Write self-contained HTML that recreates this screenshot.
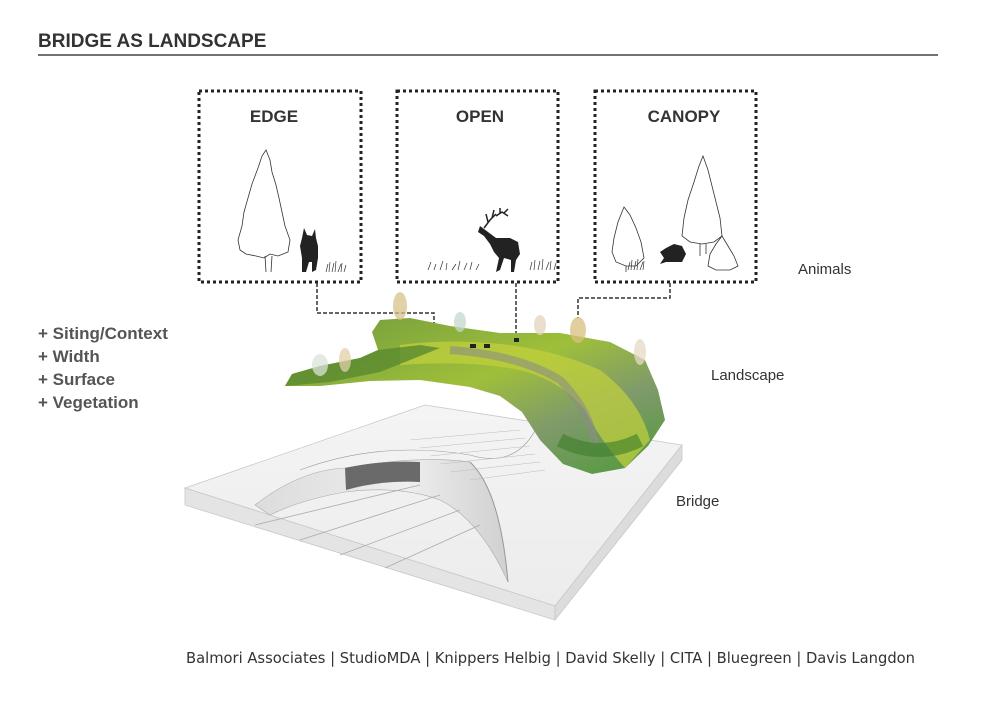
<!DOCTYPE html>
<html><head><meta charset="utf-8"><style>
html,body{margin:0;padding:0;background:#fff;}
svg{display:block;}
text{font-family:"Liberation Sans",Arial,sans-serif;}
</style></head><body>
<svg width="984" height="712" viewBox="0 0 984 712" xmlns="http://www.w3.org/2000/svg">
<defs>
<linearGradient id="g1" x1="0" y1="0" x2="1" y2="1">
<stop offset="0" stop-color="#6e9a3e"/><stop offset="0.45" stop-color="#9fbf3a"/><stop offset="0.7" stop-color="#7f9a6a"/><stop offset="1" stop-color="#4f9a3a"/>
</linearGradient>
<linearGradient id="slab" x1="0" y1="0" x2="0" y2="1">
<stop offset="0" stop-color="#f4f4f4"/><stop offset="1" stop-color="#ececec"/>
</linearGradient>
<linearGradient id="tun" x1="0" y1="0" x2="1" y2="0"><stop offset="0" stop-color="#dcdcdc"/><stop offset="0.6" stop-color="#eeeeee"/><stop offset="1" stop-color="#d0d0d0"/></linearGradient>
</defs>
<text x="38" y="47" font-size="19" font-weight="bold" fill="#333">BRIDGE AS LANDSCAPE</text>
<line x1="38" y1="55" x2="938" y2="55" stroke="#444" stroke-width="1.5"/>

<g fill="none" stroke="#222" stroke-width="3" stroke-dasharray="3 3">
<rect x="199" y="91" width="162" height="191"/>
<rect x="397" y="91" width="161" height="191"/>
<rect x="595" y="91" width="161" height="191"/>
</g>
<g font-size="17" font-weight="bold" fill="#333" text-anchor="middle">
<text x="274" y="122">EDGE</text>
<text x="480" y="122">OPEN</text>
<text x="684" y="122">CANOPY</text>
</g>

<g fill="none" stroke="#333" stroke-width="0.8">
<path d="M266 150 L270 160 272 172 276 185 279 198 282 212 285 226 290 240 288 252 278 256 270 254 264 258 256 256 246 254 240 250 238 240 242 226 244 212 248 198 252 184 258 168 262 156 Z"/>
<path d="M265 256 L266 272 M272 256 L271 272"/>
<path d="M624 207 L630 215 636 228 641 242 644 258 636 266 626 266 616 262 612 252 614 238 618 222 Z"/>
<path d="M626 266 V272"/>
<path d="M703 156 L708 170 712 186 716 202 720 218 722 236 714 242 702 244 690 242 682 236 684 218 688 200 694 182 699 166 Z"/>
<path d="M700 244 V256 M706 244 V254"/>
<path d="M722 236 L728 246 734 256 738 266 730 270 716 270 708 266 710 254 716 244 Z"/>
</g>
<path fill="#222" d="M304 228 L307 235 312 236 315 229 316 238 318 246 318 258 316 270 312 272 312 262 309 262 306 272 302 272 302 258 300 246 302 238 Z"/>
<path fill="#222" d="M480 226 L488 232 496 238 510 238 518 242 520 254 516 260 514 272 511 272 511 260 504 258 500 270 496 272 499 258 494 252 490 244 484 236 478 232 Z"/>
<path fill="none" stroke="#222" stroke-width="1.5" d="M484 228 L490 220 496 214 M488 222 L486 214 M492 218 L494 210 M496 216 L502 212 L508 216 M500 214 L500 208 M504 213 L508 209"/>
<path fill="#222" d="M660 252 L666 248 674 244 682 246 686 254 682 262 674 262 666 262 660 264 664 258 Z"/>
<g fill="none" stroke="#333" stroke-width="0.7">
<path d="M326 272 l2 -8 M329 272 l1 -10 M332 272 l2 -9 M335 272 l1 -11 M338 272 l3 -8 M341 272 l1 -9 M344 272 l2 -7"/>
<path d="M428 270 l3 -8 M434 270 l2 -6 M440 270 l3 -9 M446 270 l1 -7 M452 270 l4 -6 M458 270 l2 -9 M464 270 l3 -7 M470 270 l2 -8 M476 270 l3 -6"/>
<path d="M530 270 l2 -8 M534 270 l1 -10 M538 270 l2 -9 M542 270 l1 -11 M546 270 l3 -8 M550 270 l1 -9 M554 270 l2 -7"/>
<path d="M628 270 l2 -8 M631 270 l1 -10 M634 270 l2 -9 M637 270 l1 -11 M640 270 l3 -8 M643 270 l1 -9"/>
</g>

<g fill="none" stroke="#333" stroke-width="1.5" stroke-dasharray="4 2">
<path d="M317 283 V313 H434 V332"/>
<path d="M516 283 V336"/>
<path d="M670 283 V298 H578 V318"/>
</g>

<polygon points="185,488 425,405 682,445 555,606" fill="url(#slab)" stroke="#c8c8c8" stroke-width="0.8"/>
<polygon points="185,488 555,606 555,620 185,505" fill="#e4e4e4" stroke="#c8c8c8" stroke-width="0.8"/>
<polygon points="555,606 682,445 682,460 555,620" fill="#dcdcdc" stroke="#c8c8c8" stroke-width="0.8"/>
<!-- arch -->
<path d="M255 505 Q300 470 345 468 Q420 455 470 462 Q500 490 508 582 Q480 520 440 500 Q400 485 345 492 Q300 500 270 515 Z" fill="url(#tun)" stroke="#aaa" stroke-width="0.6"/>
<path d="M345 468 Q380 460 420 462 L420 482 Q380 480 346 490 Z" fill="#6a6a6a"/>
<path d="M470 462 Q500 490 508 582" fill="none" stroke="#999" stroke-width="1"/>
<path d="M300 470 Q380 440 470 455 Q520 470 540 420" fill="none" stroke="#999" stroke-width="0.6"/>
<g stroke="#aaa" stroke-width="0.8">
<line x1="255" y1="525" x2="420" y2="485"/><line x1="300" y1="540" x2="440" y2="495"/><line x1="340" y1="555" x2="460" y2="510"/><line x1="385" y1="568" x2="480" y2="525"/>
</g>
<g stroke="#bbb" stroke-width="0.5">
<path d="M410 440 L520 430 M420 448 L525 438 M430 456 L530 446 M440 464 L535 454 M450 472 L540 462 M470 480 L545 470" />
</g>

<path d="M285 386 L292 374 320 366 360 358 378 350 372 332 380 320 410 318 450 326 500 333 560 333 610 342 645 360 658 390 665 420 648 446 625 468 592 474 563 464 540 440 522 412 500 396 470 387 420 380 370 381 320 386 Z" fill="url(#g1)"/>
<path d="M400 345 Q450 338 510 345 Q560 352 600 370 Q640 400 650 440 L625 468 Q600 440 585 410 Q560 380 520 370 Q470 360 400 365 Z" fill="#c3d23c" opacity="0.7"/>
<path d="M450 350 Q520 355 560 380 Q590 410 595 445" fill="none" stroke="#8a8f80" stroke-width="8" opacity="0.6"/>
<path d="M560 440 Q600 460 640 440" fill="none" stroke="#3d7d2c" stroke-width="14" opacity="0.6"/>
<path d="M285 386 L292 374 320 366 360 358 378 350 420 345 440 348 380 372 330 382 Z" fill="#5a8a30" opacity="0.8"/>
<g opacity="0.75">
<ellipse cx="400" cy="306" rx="7" ry="14" fill="#d7c28a"/>
<ellipse cx="578" cy="330" rx="8" ry="13" fill="#d8c07e"/>
<ellipse cx="460" cy="322" rx="6" ry="10" fill="#c5d9cc"/>
<ellipse cx="320" cy="365" rx="8" ry="11" fill="#d9e3da"/>
<ellipse cx="345" cy="360" rx="6" ry="12" fill="#e2cfa8"/>
<ellipse cx="540" cy="325" rx="6" ry="10" fill="#e3d5bc"/>
<ellipse cx="640" cy="352" rx="6" ry="13" fill="#e5d9c5"/>
</g>
<g fill="#222"><rect x="470" y="344" width="6" height="4"/><rect x="484" y="344" width="6" height="4"/><rect x="514" y="338" width="5" height="4"/></g>

<g font-size="17" font-weight="bold" fill="#555">
<text x="38" y="339">+ Siting/Context</text>
<text x="38" y="362">+ Width</text>
<text x="38" y="385">+ Surface</text>
<text x="38" y="408">+ Vegetation</text>
</g>
<g font-size="15" fill="#333">
<text x="798" y="274">Animals</text>
<text x="711" y="380">Landscape</text>
<text x="676" y="506">Bridge</text>
</g>
<text x="186" y="663" font-size="15" fill="#333" textLength="729" lengthAdjust="spacingAndGlyphs" style="font-family:'DejaVu Sans Condensed','Liberation Sans Narrow','Liberation Sans',sans-serif">Balmori Associates | StudioMDA | Knippers Helbig | David Skelly | CITA | Bluegreen | Davis Langdon</text>
</svg>
</body></html>
